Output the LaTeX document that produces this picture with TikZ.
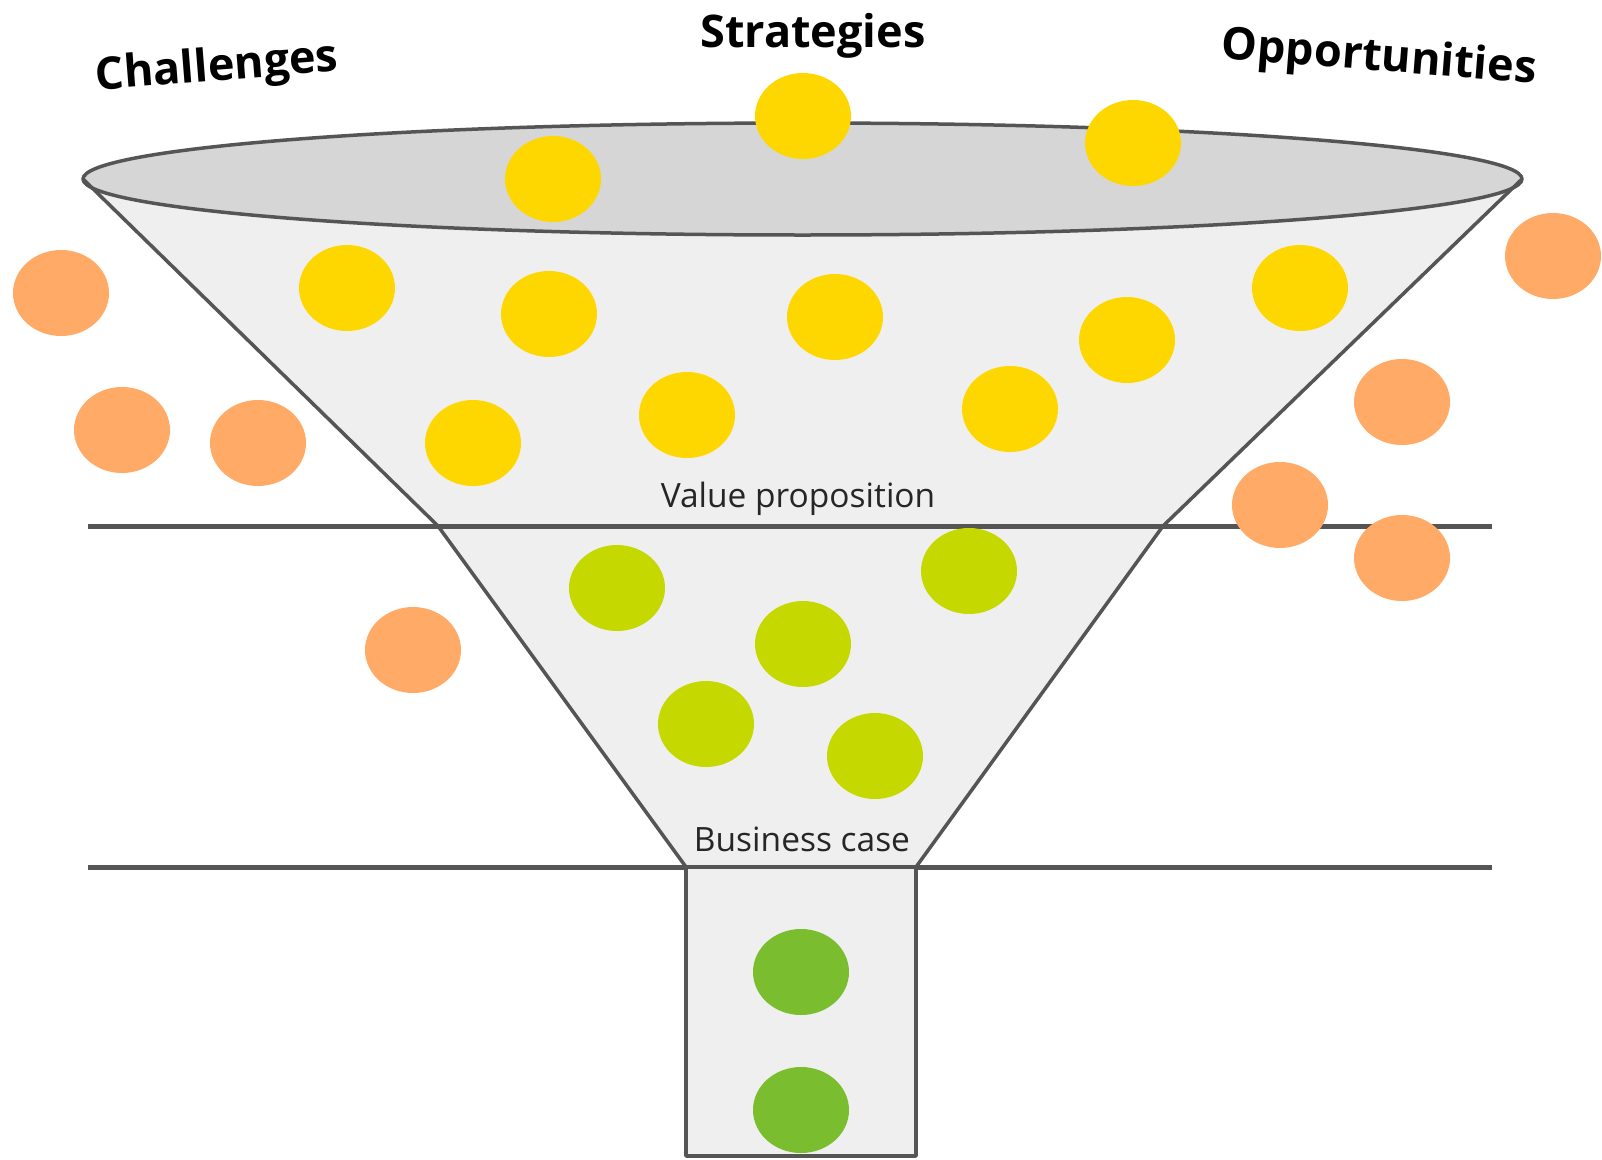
\documentclass[tikz,border=0pt]{standalone}
\usepackage{fontspec}
\setmainfont{Open Sans}
\usetikzlibrary{shapes.geometric,backgrounds}
\definecolor{funnelColor}{RGB}{239,239,239}
\definecolor{rimColor}{RGB}{214,214,214}
\definecolor{edgeColor}{RGB}{85,85,85}
\definecolor{challengesColor}{RGB}{255,170,102}
\definecolor{strategiesColor}{RGB}{255,215,0}
\definecolor{valueColor}{RGB}{197,217,0}
\definecolor{caseColor}{RGB}{122,189,46}

\begin{document}
\begin{tikzpicture}[x=1pt, y=-1pt,
ball/.style={
    ellipse, minimum width=96pt, minimum height=86pt, inner sep=0pt},
edge/.style={
    draw=edgeColor, line width=3.5pt, line join=round},
stage/.style={
    draw=edgeColor, line width=5pt},
title/.style={
    font=\fontsize{45}{54}\selectfont\bfseries},
stageLabel/.style={
    font=\fontsize{33.5}{40}\selectfont, text=black!85, anchor=base}
]

\useasboundingbox (0,0) rectangle (1602,1159);

\node[ellipse, edge, fill=rimColor, outer sep=0pt, inner sep=0pt,
      minimum width=1439pt, minimum height=112pt] (rim) at (802.5,179) {};

\coordinate (neckLeft) at (438,526);
\coordinate (neckRight) at (1163,526);
\coordinate (spoutLeft) at (686,867);
\coordinate (spoutRight) at (916,867);
\coordinate (spoutBottom) at (916,1156);

\coordinate (valueLeft) at (88,526);
\coordinate (valueRight) at (1492,526);
\coordinate (caseLeft) at (88,867);
\coordinate (caseRight) at (1492,867);

\begin{scope}[on background layer]
    \fill[funnelColor] (rim.west) -- (neckLeft) -- (spoutLeft)
                        -- (spoutRight) -- (neckRight) -- (rim.east) -- cycle;
\end{scope}

\draw[stage] (valueLeft) -- (valueRight);
\draw[stage] (caseLeft) -- (caseRight);

\draw[edge] (rim.west) -- (neckLeft) -- (spoutLeft);
\draw[edge] (rim.east) -- (neckRight) -- (spoutRight);
\draw[edge, fill=funnelColor] (spoutLeft) rectangle (spoutBottom);

\node[stageLabel] (valueLabel) at (798,507) {Value proposition};
\node[stageLabel] (caseLabel) at (802,851) {Business case};

\node[title, rotate=4.5] (challengesLabel) at (217,69) {Challenges};
\node[title, anchor=base] (strategiesLabel) at (813,47) {Strategies};
\node[title, rotate=-4.5] (opportunitiesLabel) at (1379,59) {Opportunities};

\foreach \x/\y [count=\i] in {803/116, 1133/143, 553/179, 347/288, 549/314,
        835/317, 1127/340, 1300/288, 473/443, 687/415, 1010/409}
    \node[ball, fill=strategiesColor] (strategy\i) at (\x,\y) {};

\foreach \x/\y [count=\i] in {617/588, 969/571, 803/644, 706/724, 875/756}
    \node[ball, fill=valueColor] (value\i) at (\x,\y) {};

\foreach \x/\y [count=\i] in {801/972, 801/1110}
    \node[ball, fill=caseColor] (case\i) at (\x,\y) {};

\foreach \x/\y [count=\i] in {61/293, 122/430, 258/443, 1553/256, 1402/402,
        1280/505, 1402/558, 413/650}
    \node[ball, fill=challengesColor] (challenge\i) at (\x,\y) {};

\end{tikzpicture}
\end{document}
